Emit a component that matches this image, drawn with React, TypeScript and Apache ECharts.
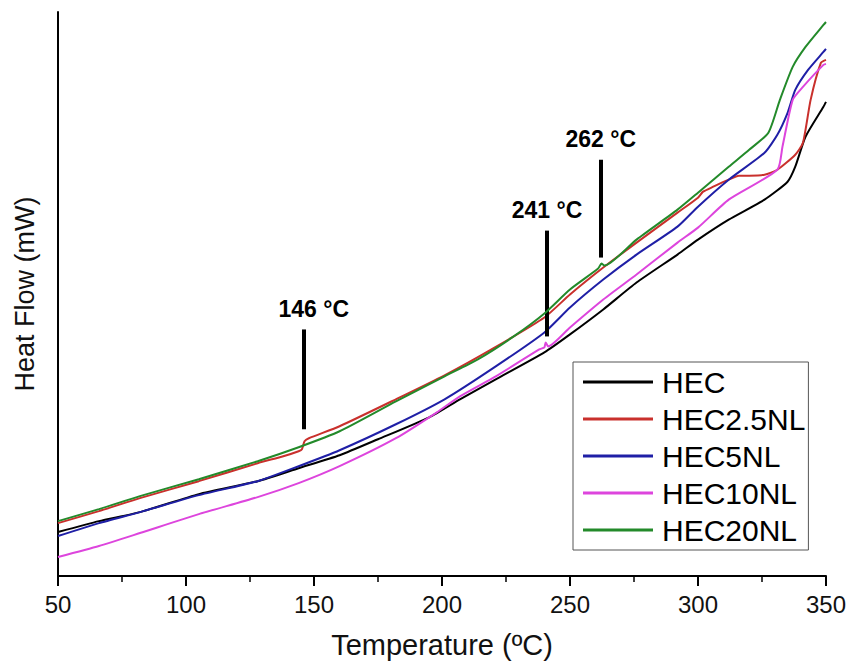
import React, { useEffect, useRef } from "react";
import * as echarts from "echarts";

// Temperature (°C) vs heat flow (arbitrary units)
const hecData: number[][] = [[50,44],[66,55],[82,64],[105,82],[128,95],[144,108],[160,121],[175,137],[195,159],[207,177],[221,197],[240,224],[250,242],[263,267],[276,294],[292,322],[300,337],[312,357],[326,377],[335,395],[338,410],[342,440],[349,470],[350,475]];
const hec25Data: number[][] = [[50,53],[66,65],[82,78],[105,95],[128,113],[138,120],[144,125],[145.3,127],[146.3,135],[148,138],[160,150],[182,177],[201,201],[220,228],[240,259],[250,282],[263,309],[276,334],[292,364],[300,379],[302,385],[306,390],[312,397],[316,401],[320,401],[326,402],[331,407],[338,422],[341,434],[344,477],[348,514],[350,517]];
const hec5Data: number[][] = [[50,40],[66,53],[82,64],[105,81],[128,95],[144,110],[160,126],[182,152],[201,177],[221,210],[240,244],[250,269],[263,297],[276,322],[292,350],[300,370],[312,397],[326,424],[331,442],[335,464],[338,487],[343,507],[349,525],[350,528]];
const hec10Data: number[][] = [[50,19],[66,30],[82,43],[105,62],[128,79],[144,93],[160,110],[182,138],[198,164],[207,180],[221,200],[238,227],[240,229],[240.5,234],[241.5,230],[250,249],[263,277],[276,302],[292,334],[300,349],[312,377],[331,407],[333,430],[337,477],[341,490],[349,512],[350,513]];
const hec20Data: number[][] = [[50,55],[66,67],[82,80],[105,97],[128,115],[144,129],[160,145],[182,175],[201,200],[214,217],[228,240],[240,263],[250,287],[261,308],[262.3,313],[263.5,311],[276,337],[292,367],[300,384],[312,410],[320,427],[327.5,444],[332,477],[337,510],[342,530],[349,552],[350,555]];

const seriesNames = ["HEC", "HEC2.5NL", "HEC5NL", "HEC10NL", "HEC20NL"];
const seriesColors = ["#000000", "#c9302c", "#1f1fa6", "#dd45dd", "#238a2a"];
const seriesData = [hecData, hec25Data, hec5Data, hec10Data, hec20Data];

// annotations: temperature, lower end, upper end of marker line
const annoT = [146, 241, 262];
const annoLow = [147, 240, 319];
const annoHigh = [247, 346, 417];
const annoLabels = ["146 °C", "241 °C", "262 °C"];
const annoOffsetX = [10, 0, 0];

const xTicks = { min: 50, max: 350, interval: 50 };

const FONT = "'Liberation Sans', Arial, sans-serif";

export default function App() {
  const ref = useRef<HTMLDivElement>(null);
  useEffect(() => {
    if (!ref.current) return;
    const chart = echarts.init(ref.current, undefined, { renderer: "svg" });
    const series: any[] = seriesNames.map((name, i) => ({
      name,
      type: "line",
      data: seriesData[i],
      showSymbol: false,
      symbol: "none",
      smooth: 0.2,
      lineStyle: { color: seriesColors[i], width: 2 },
      itemStyle: { color: seriesColors[i] },
      z: 2 + i,
    }));
    series[0].markLine = {
      silent: true,
      symbol: ["none", "none"],
      lineStyle: { type: "solid", color: "#000", width: 4 },
      label: {
        show: true,
        position: "end",
        distance: 9,
        color: "#000",
        fontWeight: "bold",
        fontSize: 23,
        fontFamily: FONT,
        formatter: (p: any) => p.name,
      },
      emphasis: { disabled: true },
      data: annoT.map((t, i) => [
        { name: annoLabels[i], coord: [t, annoLow[i]], label: { offset: [annoOffsetX[i], 0] } },
        { coord: [t, annoHigh[i]] },
      ]),
    };
    chart.setOption({
      animation: false,
      backgroundColor: "#ffffff",
      grid: { left: 58, right: 19, top: 12, bottom: 87 },
      legend: {
        orient: "vertical",
        left: 573,
        top: 362,
        data: seriesNames,
        icon: "rect",
        itemWidth: 70,
        itemHeight: 3,
        itemGap: 7,
        padding: [5, 3, 5, 10],
        borderColor: "#555",
        borderWidth: 1,
        backgroundColor: "#fff",
        textStyle: { fontSize: 30, lineHeight: 30, color: "#000", fontFamily: FONT, padding: [0, 0, 0, 4] },
      },
      xAxis: {
        type: "value",
        min: xTicks.min,
        max: xTicks.max,
        interval: xTicks.interval,
        name: "Temperature (ºC)",
        nameLocation: "middle",
        nameGap: 54,
        nameTextStyle: { fontSize: 29, color: "#111", fontFamily: FONT },
        axisLine: { show: true, onZero: false, lineStyle: { color: "#000", width: 2 } },
        axisTick: { show: true, length: 10, lineStyle: { color: "#000", width: 2 } },
        minorTick: { show: true, splitNumber: 2, length: 6, lineStyle: { color: "#000", width: 1.5 } },
        axisLabel: { fontSize: 24, color: "#111", fontFamily: FONT, margin: 16 },
        splitLine: { show: false },
      },
      yAxis: {
        type: "value",
        min: 0,
        max: 565,
        name: "Heat Flow (mW)",
        nameLocation: "middle",
        nameGap: 20,
        nameTextStyle: { fontSize: 27, color: "#111", fontFamily: FONT },
        axisLine: { show: true, lineStyle: { color: "#000", width: 2 } },
        axisTick: { show: false },
        axisLabel: { show: false },
        splitLine: { show: false },
      },
      series,
    });
    return () => chart.dispose();
  }, []);
  return (
    <div
      ref={ref}
      style={{ position: "absolute", left: 0, top: 0, width: 849, height: 664, background: "#fff" }}
    />
  );
}
